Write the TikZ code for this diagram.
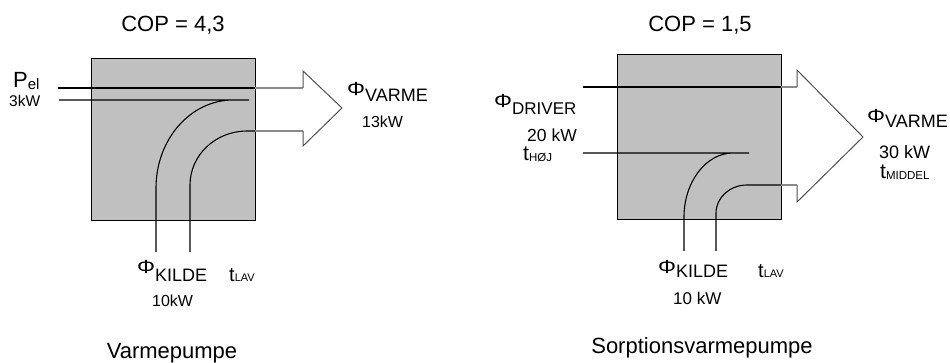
\documentclass[tikz,border=0pt]{standalone}
\usepackage{fontspec}
\setmainfont{Liberation Sans}
\newcommand\fsz[1]{\fontsize{#1}{#1}\selectfont}
\newcommand\bigphi{\scalebox{1.25}[1.05]{\fsz{18}Φ}}
\definecolor{boxgray}{HTML}{C0C0C0}
\definecolor{shaftgray}{HTML}{8A8A8A}
\definecolor{headgray}{HTML}{505050}
\begin{document}
\begin{tikzpicture}[x=1pt,y=-1pt,
  pumpbox/.style={fill=boxgray,draw=black,line width=1.3pt},
  flow/.style={draw=black,line width=1.1pt},
  shaft/.style={draw=shaftgray,line width=1.1pt},
  head/.style={draw=headgray,line width=1pt,line join=miter},
  lbl/.style={inner sep=0pt,anchor=base west},
  ttl/.style={inner sep=0pt,anchor=base}]
\useasboundingbox (0,0) rectangle (950,363);

% ---------------- left: Varmepumpe ----------------
\node[pumpbox,minimum width=164pt,minimum height=162pt,inner sep=0pt,anchor=north west] (boxL) at (91,58) {};
\coordinate (LpelA) at (58,88);
\coordinate (LpelB) at (59,100);
\coordinate (LtopE) at (255,88);
\coordinate (LlowE) at (255,131);
\coordinate (LheadTop) at (303,88);
\coordinate (LheadBot) at (303,131);
\draw[shaft] (LtopE) -- (LheadTop);
\draw[shaft] (LlowE) -- (LheadBot);
\draw[head] (LheadTop) -- (303,71) -- (342,108) -- (303,146) -- (LheadBot);
\draw[flow] (LpelA) -- (LtopE);
\draw[flow] (LpelB) -- (249,100) -- (233,100) .. controls (190.5,100) and (156,139.4) .. (156,188) -- (156,252);
\draw[flow] (LlowE) -- (247,131) .. controls (215.5,131) and (190,155.2) .. (190,185) -- (190,252);

\node[ttl] (copL) at (173,32) {\fsz{22}COP = 4,3};
\node[ttl] (nameL) at (172,358) {\fsz{22}Varmepumpe};
\node[lbl] (pel) at (13,88) {\fsz{22}P\raisebox{-2pt}{\fsz{15}el}};
\node[lbl] (pelkw) at (9,107) {\fsz{15.5}3kW};
\node[lbl] (varL) at (347,96) {\bigphi\raisebox{-6pt}{\fsz{18}VARME}};
\node[lbl] (varLkw) at (362,128) {\fsz{16}13kW};
\node[lbl] (kilL) at (137,274) {\bigphi\raisebox{-8pt}{\fsz{18}KILDE}};
\node[lbl] (lavL) at (229,281) {\fsz{20}t\fsz{11}LAV};
\node[lbl] (kilLkw) at (152,306) {\fsz{16}10kW};

% ---------------- right: Sorptionsvarmepumpe ----------------
\node[pumpbox,minimum width=164pt,minimum height=165pt,inner sep=0pt,anchor=north west] (boxR) at (617,54) {};
\coordinate (RdrvA) at (583,87);
\coordinate (RhojA) at (583,153);
\coordinate (RtopE) at (781,87);
\coordinate (RlowE) at (781,185);
\coordinate (RheadTop) at (797,87);
\coordinate (RheadBot) at (797,185);
\draw[shaft] (RtopE) -- (RheadTop);
\draw[shaft] (RlowE) -- (RheadBot);
\draw[head] (RheadTop) -- (797,70) -- (863,137) -- (797,202) -- (RheadBot);
\draw[flow] (RdrvA) -- (RtopE);
\draw[flow] (RhojA) -- (749,153) -- (733,153) .. controls (706,153) and (684,182) .. (684,217) -- (684,251);
\draw[flow] (RlowE) -- (747,185) .. controls (730,185) and (716,197.5) .. (716,213) -- (716,251);

\node[ttl] (copR) at (700,32) {\fsz{22}COP = 1,5};
\node[ttl] (nameR) at (702,353) {\fsz{22}Sorptionsvarmepumpe};
\node[lbl] (drv) at (494,108) {\bigphi\raisebox{-7pt}{\fsz{17}DRIVER}};
\node[lbl] (drvkw) at (527,142) {\fsz{17.5}20 kW};
\node[lbl] (hoj) at (523,161) {\fsz{21}t\raisebox{-1pt}{\fsz{11.5}HØJ}};
\node[lbl] (varR) at (867,123) {\bigphi\raisebox{-5pt}{\fsz{18}VARME}};
\node[lbl] (varRkw) at (879,159) {\fsz{18}30 kW};
\node[lbl] (mid) at (880,179) {\fsz{21}t\raisebox{-1pt}{\fsz{11.5}MIDDEL}};
\node[lbl] (kilR) at (658,273) {\bigphi\raisebox{-5pt}{\fsz{18}KILDE}};
\node[lbl] (lavR) at (758,278) {\fsz{20}t\fsz{11}LAV};
\node[lbl] (kilRkw) at (673,304) {\fsz{17}10 kW};
\end{tikzpicture}
\end{document}
